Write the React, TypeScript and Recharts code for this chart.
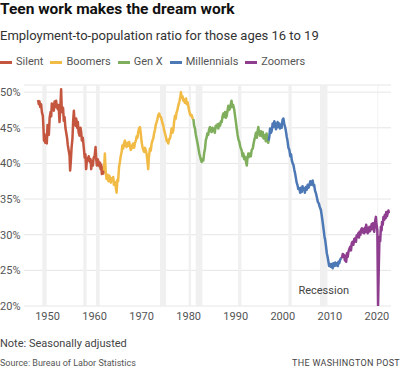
import { LineChart, Line, XAxis, YAxis, CartesianGrid, ReferenceArea } from 'recharts';

// [year, employment-to-population ratio %]
const silent: [number, number][] = [
  [1948.0, 48.9], [1948.15, 48.3], [1948.3, 48.7], [1948.45, 47.9], [1948.64, 48.3], [1948.8, 47.2],
  [1949.0, 46.7], [1949.12, 45.2], [1949.25, 43.2], [1949.36, 44.1], [1949.5, 42.9], [1949.7, 43.6],
  [1949.85, 42.8], [1950.0, 45.4], [1950.15, 44.3], [1950.28, 44.0], [1950.45, 46.4], [1950.64, 47.2],
  [1950.78, 46.6], [1950.91, 48.4], [1951.05, 47.5], [1951.2, 48.3], [1951.34, 47.4], [1951.5, 48.7],
  [1951.65, 47.9], [1951.83, 48.8], [1952.0, 47.9], [1952.19, 47.6], [1952.35, 48.2], [1952.55, 45.8],
  [1952.7, 47.5], [1952.89, 50.4], [1953.0, 48.0], [1953.1, 47.2], [1953.3, 47.8], [1953.45, 46.0],
  [1953.62, 46.5], [1953.8, 45.0], [1954.0, 44.2], [1954.17, 43.5], [1954.3, 42.6], [1954.5, 41.8],
  [1954.68, 41.1], [1954.8, 39.0], [1954.95, 40.3], [1955.1, 42.1], [1955.3, 43.5], [1955.45, 46.0],
  [1955.6, 47.4], [1955.75, 45.8], [1955.96, 45.3], [1956.1, 46.3], [1956.3, 45.0], [1956.45, 45.8],
  [1956.6, 44.4], [1956.81, 43.9], [1957.0, 45.0], [1957.15, 44.4], [1957.3, 43.2], [1957.5, 43.6],
  [1957.72, 42.1], [1957.9, 40.8], [1958.05, 41.3], [1958.21, 39.2], [1958.4, 40.7], [1958.57, 40.4],
  [1958.75, 41.0], [1959.0, 40.2], [1959.15, 40.6], [1959.28, 39.2], [1959.45, 40.3], [1959.64, 39.7],
  [1959.8, 40.8], [1960.0, 41.0], [1960.21, 42.3], [1960.35, 40.6], [1960.49, 39.7], [1960.65, 40.6],
  [1960.85, 40.2], [1961.0, 39.6], [1961.15, 40.1], [1961.28, 39.2], [1961.42, 39.8], [1961.55, 38.5],
  [1961.7, 39.4], [1961.85, 38.6], [1962.0, 39.0],
];

const boomers: [number, number][] = [
  [1962.0, 39.0], [1962.19, 41.4], [1962.35, 38.9], [1962.55, 37.8], [1962.75, 38.4], [1962.95, 37.5],
  [1963.1, 38.3], [1963.26, 38.1], [1963.45, 37.3], [1963.6, 37.9], [1963.83, 37.8], [1963.96, 38.1],
  [1964.1, 37.0], [1964.3, 37.4], [1964.5, 36.7], [1964.68, 35.9], [1964.85, 37.7], [1965.0, 37.5],
  [1965.2, 39.5], [1965.38, 40.2], [1965.55, 41.0], [1965.75, 41.6], [1965.9, 42.5], [1966.09, 42.1],
  [1966.25, 42.8], [1966.45, 43.2], [1966.6, 42.5], [1966.81, 42.3], [1967.0, 42.9], [1967.2, 42.5],
  [1967.36, 43.0], [1967.55, 42.3], [1967.7, 41.9], [1967.87, 42.1], [1968.05, 42.6], [1968.21, 42.8],
  [1968.4, 42.2], [1968.6, 42.9], [1968.79, 43.2], [1968.95, 43.8], [1969.1, 43.6], [1969.28, 44.4],
  [1969.45, 44.9], [1969.64, 45.1], [1969.8, 44.3], [1970.0, 43.0], [1970.15, 42.4], [1970.35, 41.9],
  [1970.55, 41.6], [1970.7, 42.2], [1970.9, 41.8], [1971.06, 41.3], [1971.2, 40.5], [1971.4, 39.2],
  [1971.55, 40.9], [1971.77, 42.1], [1971.95, 41.8], [1972.1, 42.7], [1972.3, 43.2], [1972.47, 43.5],
  [1972.65, 44.2], [1972.85, 44.8], [1973.0, 45.4], [1973.19, 45.8], [1973.35, 46.2], [1973.55, 46.8],
  [1973.74, 47.0], [1973.9, 46.6], [1974.11, 46.5], [1974.3, 46.0], [1974.45, 45.6], [1974.6, 45.3],
  [1974.8, 44.6], [1975.0, 44.1], [1975.17, 43.7], [1975.35, 43.1], [1975.5, 43.3], [1975.66, 42.8],
  [1975.85, 43.4], [1976.02, 43.5], [1976.2, 44.1], [1976.38, 44.9], [1976.55, 44.3], [1976.72, 44.6],
  [1976.9, 45.8], [1977.09, 46.7], [1977.25, 46.3], [1977.4, 47.1], [1977.57, 47.4], [1977.75, 48.0],
  [1978.0, 48.6], [1978.2, 49.2], [1978.36, 50.0], [1978.5, 49.2], [1978.7, 49.4], [1978.85, 48.8],
  [1979.0, 49.0], [1979.2, 48.5], [1979.43, 49.1], [1979.6, 48.3], [1979.75, 48.6], [1979.91, 48.1],
  [1980.1, 47.4], [1980.25, 47.0], [1980.43, 46.7], [1980.6, 46.8], [1980.85, 46.3], [1981.0, 46.2],
];

const genX: [number, number][] = [
  [1981.0, 46.2], [1981.15, 45.3], [1981.34, 44.9], [1981.5, 44.1], [1981.65, 43.6], [1981.83, 43.0],
  [1982.0, 42.4], [1982.1, 42.0], [1982.26, 41.4], [1982.45, 40.9], [1982.6, 40.5], [1982.77, 40.2],
  [1982.95, 40.6], [1983.11, 40.4], [1983.3, 41.5], [1983.47, 42.1], [1983.65, 43.3], [1983.8, 43.6],
  [1983.96, 44.2], [1984.15, 44.0], [1984.35, 44.8], [1984.53, 45.1], [1984.7, 44.5], [1984.89, 44.4],
  [1985.05, 45.0], [1985.2, 44.6], [1985.38, 44.9], [1985.55, 44.3], [1985.75, 45.3], [1985.96, 45.1],
  [1986.15, 45.5], [1986.3, 44.9], [1986.51, 45.6], [1986.7, 45.3], [1986.85, 45.9], [1987.02, 45.8],
  [1987.2, 46.6], [1987.36, 47.0], [1987.55, 46.5], [1987.72, 47.2], [1987.9, 46.4], [1988.09, 46.7],
  [1988.25, 47.4], [1988.43, 48.1], [1988.6, 47.5], [1988.79, 47.7], [1988.95, 48.3], [1989.1, 48.8],
  [1989.28, 47.9], [1989.45, 48.2], [1989.64, 47.7], [1989.85, 46.7], [1990.0, 46.0], [1990.21, 44.9],
  [1990.4, 44.0], [1990.6, 43.3], [1990.77, 43.0], [1990.95, 42.4], [1991.1, 42.1], [1991.28, 41.8],
  [1991.45, 41.0], [1991.62, 41.4], [1991.8, 40.6], [1992.0, 40.9], [1992.19, 40.2], [1992.35, 39.7],
  [1992.5, 40.8], [1992.68, 41.4], [1992.85, 40.9], [1993.04, 41.4], [1993.2, 41.0], [1993.4, 41.9],
  [1993.62, 42.1], [1993.8, 42.8], [1993.95, 43.3], [1994.11, 43.7], [1994.3, 44.3], [1994.5, 43.6],
  [1994.65, 44.5], [1994.81, 45.1], [1994.95, 44.4], [1995.17, 43.9], [1995.35, 44.5], [1995.55, 43.8],
  [1995.74, 44.4], [1995.9, 43.5], [1996.05, 44.0], [1996.23, 43.7], [1996.4, 43.1], [1996.55, 44.2],
  [1996.72, 43.6], [1996.9, 42.9], [1997.0, 43.2],
];

const millennials: [number, number][] = [
  [1997.0, 43.2], [1997.15, 43.8], [1997.3, 44.9], [1997.5, 44.3], [1997.66, 44.6], [1997.85, 45.6],
  [1998.0, 45.1], [1998.2, 45.9], [1998.36, 45.6], [1998.55, 44.8], [1998.72, 45.1], [1998.9, 45.8],
  [1999.06, 45.1], [1999.25, 45.6], [1999.4, 44.9], [1999.57, 45.4], [1999.75, 45.0], [1999.95, 46.1],
  [2000.13, 46.3], [2000.3, 45.6], [2000.49, 45.1], [2000.65, 44.6], [2000.85, 43.7], [2001.0, 43.2],
  [2001.2, 42.2], [2001.4, 41.9], [2001.6, 41.0], [2001.75, 41.3], [2001.91, 40.5], [2002.1, 40.0],
  [2002.26, 39.8], [2002.45, 39.1], [2002.62, 38.6], [2002.8, 37.9], [2002.95, 37.3], [2003.11, 37.0],
  [2003.3, 36.4], [2003.53, 36.5], [2003.7, 35.9], [2003.85, 36.6], [2004.04, 36.0], [2004.2, 36.8],
  [2004.35, 36.3], [2004.53, 36.5], [2004.7, 35.9], [2004.9, 36.7], [2005.11, 36.3], [2005.3, 37.0],
  [2005.5, 36.6], [2005.66, 37.0], [2005.85, 37.5], [2006.0, 37.0], [2006.17, 37.4], [2006.35, 37.6],
  [2006.5, 36.9], [2006.66, 37.0], [2006.85, 36.2], [2007.05, 35.8], [2007.23, 35.3], [2007.45, 34.6],
  [2007.66, 34.4], [2007.85, 33.9], [2008.09, 33.5], [2008.3, 32.6], [2008.51, 31.6], [2008.7, 30.6],
  [2008.85, 29.8], [2009.0, 29.3], [2009.2, 28.3], [2009.36, 27.4], [2009.55, 26.8], [2009.7, 26.2],
  [2009.85, 25.6], [2010.0, 25.9], [2010.21, 25.5], [2010.4, 25.9], [2010.6, 25.3], [2010.77, 26.0],
  [2010.95, 25.6], [2011.15, 26.1], [2011.34, 25.7], [2011.5, 26.0], [2011.7, 25.6], [2011.83, 26.2],
  [2012.0, 26.0], [2012.2, 26.5], [2012.4, 26.7], [2012.55, 26.7],
];

const zoomers: [number, number][] = [
  [2012.55, 26.7], [2012.75, 27.3], [2013.04, 27.1], [2013.2, 26.4], [2013.35, 27.0], [2013.47, 26.2],
  [2013.65, 27.4], [2013.8, 26.9], [2013.96, 27.6], [2014.15, 28.0], [2014.32, 28.3], [2014.5, 27.8],
  [2014.65, 28.8], [2014.81, 29.0], [2015.0, 28.6], [2015.2, 29.4], [2015.38, 29.5], [2015.55, 29.0],
  [2015.7, 29.9], [2015.87, 29.7], [2016.05, 30.2], [2016.2, 29.6], [2016.3, 30.4], [2016.5, 30.0],
  [2016.65, 30.7], [2016.81, 30.9], [2017.0, 30.3], [2017.15, 30.8], [2017.3, 30.2], [2017.5, 31.0],
  [2017.6, 30.4], [2017.72, 31.4], [2017.9, 30.8], [2018.05, 30.2], [2018.21, 30.4], [2018.4, 31.1],
  [2018.55, 30.5], [2018.72, 30.9], [2018.9, 31.5], [2019.0, 30.8], [2019.15, 31.6], [2019.3, 30.9],
  [2019.43, 30.4], [2019.6, 31.8], [2019.79, 32.5], [2019.9, 31.6], [2020.0, 31.1], [2020.1, 30.6],
  [2020.25, 20.1], [2020.4, 25.4], [2020.55, 29.7], [2020.7, 29.1], [2020.85, 31.1], [2021.0, 30.6],
  [2021.1, 31.8], [2021.25, 31.4], [2021.4, 32.5], [2021.55, 32.1], [2021.7, 32.8], [2021.85, 32.3],
  [2022.0, 33.2], [2022.15, 32.6], [2022.3, 33.0], [2022.45, 33.4], [2022.55, 33.0],
];

const recessions: [number, number][] = [
  [1948.9, 1949.8], [1957.6, 1958.3], [1960.3, 1961.1], [1973.9, 1975.2], [1980.0, 1980.5],
  [1981.5, 1982.9], [1990.5, 1991.2], [2001.2, 2001.9], [2007.9, 2009.5], [2020.1, 2020.3],
];

const xTicks = [1950, 1960, 1970, 1980, 1990, 2000, 2010, 2020];
const yTicks = [20, 25, 30, 35, 40, 45, 50];

const series = [
  { name: 'Silent', color: '#c4563f', data: silent },
  { name: 'Boomers', color: '#f1bb45', data: boomers },
  { name: 'Gen X', color: '#7fae5c', data: genX },
  { name: 'Millennials', color: '#4c78b5', data: millennials },
  { name: 'Zoomers', color: '#8e3d8f', data: zoomers },
];

const FONT = "Roboto, 'Noto Sans', sans-serif";

const toPoints = (arr: [number, number][]) => arr.map(([year, v]) => ({ year, v }));

function YTick({ y, payload }: any) {
  return (
    <text x={0} y={y} dy="0.36em" fontSize={11} fill="#555" fontFamily={FONT}>
      {payload.value}%
    </text>
  );
}

export default function App() {
  return (
    <div
      style={{
        position: 'absolute',
        top: 0,
        left: 0,
        width: 400,
        height: 371,
        background: '#fff',
        overflow: 'hidden',
        fontFamily: FONT,
      }}
    >
      <LineChart
        width={400}
        height={371}
        margin={{ top: 85, right: 9, bottom: 45, left: 0 }}
        style={{ position: 'absolute', top: 0, left: 0 }}
      >
        <CartesianGrid vertical={false} stroke="#e6e6e6" />
        {recessions.map(([a, b], i) => (
          <ReferenceArea
            key={i}
            x1={a}
            x2={b}
            fill="#f0f0f0"
            fillOpacity={1}
            stroke="none"
            label={
              i === 8
                ? { value: 'Recession', position: 'insideBottom', offset: 12, fontSize: 11, fill: '#444', fontFamily: FONT }
                : undefined
            }
          />
        ))}
        <XAxis
          type="number"
          dataKey="year"
          domain={[1945, 2023]}
          ticks={xTicks}
          allowDataOverflow
          axisLine={false}
          tickLine={false}
          tickSize={0}
          tickMargin={6}
          height={20}
          tick={{ fontSize: 11, fill: '#555', fontFamily: FONT }}
        />
        <YAxis
          type="number"
          domain={[20, 51]}
          ticks={yTicks}
          allowDataOverflow
          axisLine={false}
          tickLine={false}
          width={24}
          tick={<YTick />}
        />
        {series.map((s) => (
          <Line
            key={s.name}
            data={toPoints(s.data)}
            dataKey="v"
            name={s.name}
            type="linear"
            stroke={s.color}
            strokeWidth={2.5}
            strokeLinejoin="round"
            dot={false}
            isAnimationActive={false}
          />
        ))}
      </LineChart>

      <div style={{ position: 'absolute', top: 2, left: 0, fontSize: 15.5, lineHeight: '15.5px', fontWeight: 700, color: '#111', whiteSpace: 'nowrap' }}>
        Teen work makes the dream work
      </div>
      <div style={{ position: 'absolute', top: 29, left: 0, fontSize: 13, lineHeight: '13px', color: '#333', whiteSpace: 'nowrap' }}>
        Employment-to-population ratio for those ages 16 to 19
      </div>
      <div style={{ position: 'absolute', top: 56, left: 0, height: 12, display: 'flex', alignItems: 'center', fontSize: 11, lineHeight: '12px', color: '#555', whiteSpace: 'nowrap' }}>
        {series.map((s) => (
          <div key={s.name} style={{ display: 'flex', alignItems: 'center', marginRight: 7 }}>
            <span style={{ display: 'inline-block', width: 12, height: 3, background: s.color, marginRight: 4 }} />
            <span>{s.name}</span>
          </div>
        ))}
      </div>
      <div style={{ position: 'absolute', top: 338, left: 0, fontSize: 11, lineHeight: '11px', color: '#444', whiteSpace: 'nowrap' }}>
        Note: Seasonally adjusted
      </div>
      <div style={{ position: 'absolute', top: 358.5, left: 0, fontSize: 9, lineHeight: '9px', color: '#555', whiteSpace: 'nowrap' }}>
        Source: Bureau of Labor Statistics
      </div>
      <div style={{ position: 'absolute', top: 358.5, right: 0, fontSize: 9, lineHeight: '9px', color: '#444', letterSpacing: 0.3, whiteSpace: 'nowrap' }}>
        THE WASHINGTON POST
      </div>
    </div>
  );
}
